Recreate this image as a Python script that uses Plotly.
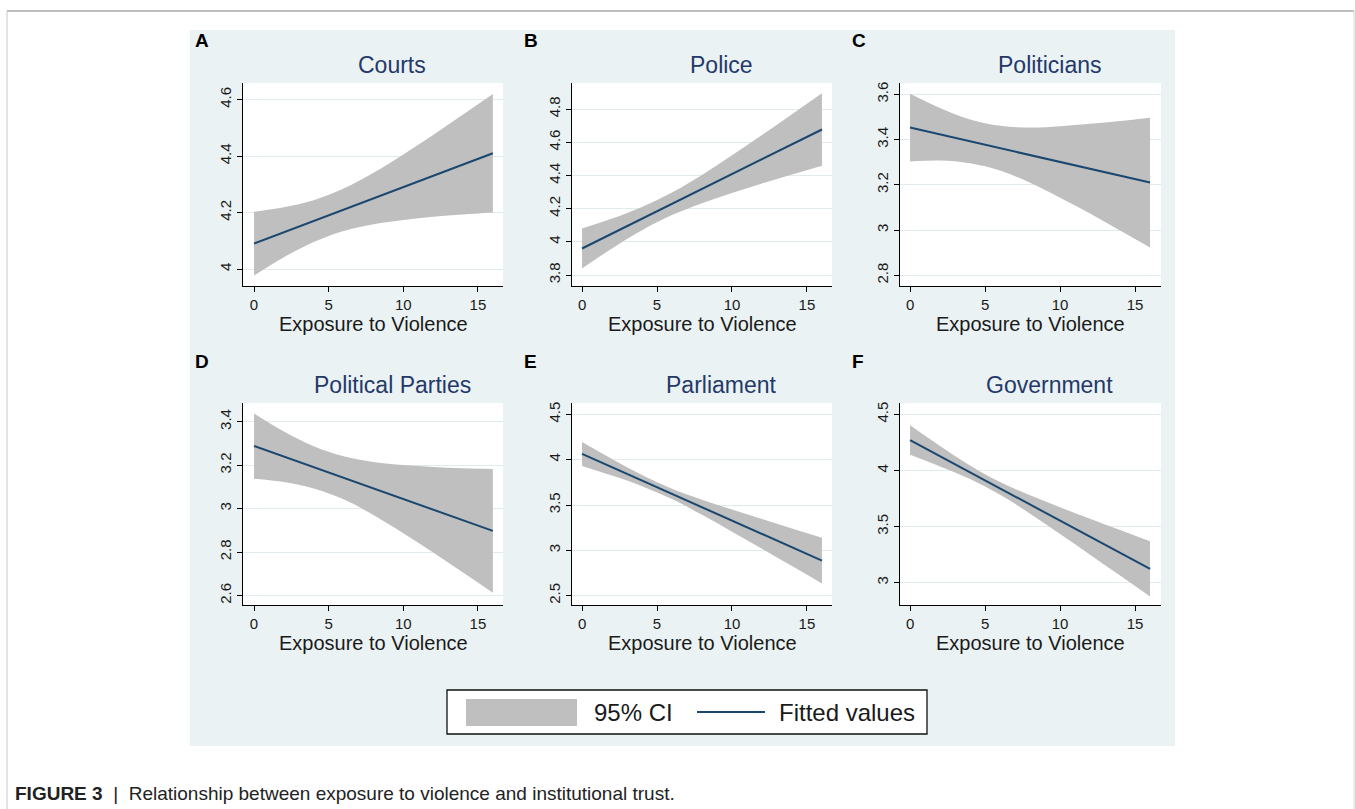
import plotly.graph_objects as go
from plotly.subplots import make_subplots

W, H = 1355, 809

COLORS = {
    "bg": "#EAF2F3",
    "grid": "#E1EBED",
    "ci": "#BFBFBF",
    "fit": "#1A476F",
    "title": "#24396A",
    "frame": "#A8A8A8",
}

# exposure to violence (x) at which the bands were read
exposure = [0, 2, 4, 6, 8, 10, 12, 14, 16]

panel_letters = ["A", "B", "C", "D", "E", "F"]
panel_titles = ["Courts", "Police", "Politicians", "Political Parties", "Parliament", "Government"]

courts_fit = [4.09, 4.13, 4.17, 4.21, 4.25, 4.29, 4.33, 4.37, 4.41]
courts_hi = [4.203, 4.219, 4.244, 4.285, 4.341, 4.406, 4.475, 4.547, 4.62]
courts_lo = [3.977, 4.042, 4.096, 4.135, 4.159, 4.174, 4.185, 4.193, 4.20]

police_fit = [3.96, 4.05, 4.14, 4.229, 4.318, 4.408, 4.498, 4.587, 4.677]
police_hi = [4.08, 4.14, 4.21, 4.297, 4.403, 4.521, 4.644, 4.769, 4.895]
police_lo = [3.84, 3.96, 4.07, 4.161, 4.233, 4.295, 4.352, 4.406, 4.459]

politicians_fit = [3.453, 3.423, 3.392, 3.362, 3.331, 3.301, 3.271, 3.24, 3.21]
politicians_hi = [3.603, 3.54, 3.489, 3.461, 3.453, 3.459, 3.47, 3.482, 3.497]
politicians_lo = [3.303, 3.307, 3.295, 3.263, 3.209, 3.143, 3.073, 2.998, 2.923]

parties_fit = [3.288, 3.239, 3.19, 3.142, 3.093, 3.044, 2.995, 2.946, 2.898]
parties_hi = [3.438, 3.355, 3.287, 3.241, 3.215, 3.201, 3.192, 3.186, 3.183]
parties_lo = [3.138, 3.123, 3.093, 3.043, 2.971, 2.887, 2.798, 2.706, 2.613]

parliament_fit = [4.063, 3.916, 3.769, 3.622, 3.475, 3.328, 3.181, 3.034, 2.887]
parliament_hi = [4.195, 4.008, 3.831, 3.679, 3.558, 3.45, 3.345, 3.242, 3.139]
parliament_lo = [3.931, 3.824, 3.708, 3.565, 3.392, 3.206, 3.017, 2.826, 2.635]

government_fit = [4.271, 4.127, 3.984, 3.840, 3.697, 3.553, 3.409, 3.266, 3.122]
government_hi = [4.402, 4.218, 4.045, 3.897, 3.779, 3.672, 3.569, 3.469, 3.368]
government_lo = [4.14, 4.036, 3.923, 3.783, 3.615, 3.434, 3.249, 3.063, 2.876]

x_ticks = [0, 5, 10, 15]
y_ticks = [
    [4, 4.2, 4.4, 4.6],
    [3.8, 4, 4.2, 4.4, 4.6, 4.8],
    [2.8, 3, 3.2, 3.4, 3.6],
    [2.6, 2.8, 3, 3.2, 3.4],
    [2.5, 3, 3.5, 4, 4.5],
    [3, 3.5, 4, 4.5],
]
y_ranges = [
    [3.94, 4.659],
    [3.734, 4.957],
    [2.753, 3.65],
    [2.557, 3.486],
    [2.397, 4.625],
    [2.801, 4.601],
]

series = [
    (courts_fit, courts_lo, courts_hi),
    (police_fit, police_lo, police_hi),
    (politicians_fit, politicians_lo, politicians_hi),
    (parties_fit, parties_lo, parties_hi),
    (parliament_fit, parliament_lo, parliament_hi),
    (government_fit, government_lo, government_hi),
]

# plot-area pixel boxes
col_px = [(243, 503), (572, 832), (900, 1161)]
row_px = [(83, 286), (403, 605)]
x_ranges = [[-0.74, 16.68], [-0.67, 16.67], [-0.67, 16.73]]


def px_x(p):
    return p / W


def px_y(p):
    return 1 - p / H


fig = make_subplots(rows=2, cols=3)

for i, (fit, lo, hi) in enumerate(series):
    r, c = i // 3 + 1, i % 3 + 1
    fig.add_trace(go.Scatter(x=exposure, y=hi, mode="lines", line=dict(width=0, shape="spline"),
                             showlegend=False, hoverinfo="skip"), row=r, col=c)
    fig.add_trace(go.Scatter(x=exposure, y=lo, mode="lines", line=dict(width=0, shape="spline"),
                             fill="tonexty", fillcolor=COLORS["ci"], showlegend=False,
                             name="95% CI"), row=r, col=c)
    fig.add_trace(go.Scatter(x=exposure, y=fit, mode="lines",
                             line=dict(color=COLORS["fit"], width=2), showlegend=False,
                             name="Fitted values"), row=r, col=c)

axis_font = dict(family="Liberation Sans, Arial, sans-serif", size=15, color="#1a1a1a")
annotations = []
for i in range(6):
    r, c = i // 3, i % 3
    x0, x1 = col_px[c]
    y0, y1 = row_px[r]
    n = "" if i == 0 else str(i + 1)
    fig.layout["xaxis" + n].update(
        domain=[px_x(x0), px_x(x1)], range=x_ranges[c], tickvals=x_ticks,
        ticktext=[str(t) for t in x_ticks], showgrid=False, zeroline=False,
        showline=True, linecolor="black", linewidth=1.3, ticks="outside",
        ticklen=5, tickwidth=1.3, tickcolor="black", tickfont=axis_font,
    )
    fig.layout["yaxis" + n].update(
        domain=[px_y(y1), px_y(y0)], range=y_ranges[i], tickvals=y_ticks[i],
        ticktext=[("%g" % t) for t in y_ticks[i]], showgrid=True,
        gridcolor=COLORS["grid"], gridwidth=1.3, zeroline=False,
        showline=True, linecolor="black", linewidth=1.3, ticks="outside",
        ticklen=5, tickwidth=1.3, tickcolor="black", tickfont=axis_font,
        tickangle=-90,
    )
    cx = (x0 + x1) / 2
    # panel letter
    annotations.append(dict(text="<b>%s</b>" % panel_letters[i], x=px_x(x0 - 50), y=px_y(y0 - 42),
                            xref="paper", yref="paper", xanchor="left", yanchor="middle",
                            showarrow=False,
                            font=dict(family="Liberation Sans, Arial", size=19, color="black")))
    # panel title
    annotations.append(dict(text=panel_titles[i], x=px_x(cx + 19), y=px_y(y0 - 18),
                            xref="paper", yref="paper", xanchor="center", yanchor="middle",
                            showarrow=False,
                            font=dict(family="Liberation Sans, Arial", size=23, color=COLORS["title"])))
    # x axis title
    annotations.append(dict(text="Exposure to Violence", x=px_x(cx), y=px_y(y1 + 38),
                            xref="paper", yref="paper", xanchor="center", yanchor="middle",
                            showarrow=False,
                            font=dict(family="Liberation Sans, Arial", size=20, color="#1a1a1a")))

# legend drawn by hand, Stata style
leg_font = dict(family="Liberation Sans, Arial", size=24, color="#1a1a1a")
annotations.append(dict(text="95% CI", x=px_x(592), y=px_y(712), xref="paper", yref="paper",
                        xanchor="left", yanchor="middle", showarrow=False, font=leg_font))
annotations.append(dict(text="Fitted values", x=px_x(777), y=px_y(712), xref="paper", yref="paper",
                        xanchor="left", yanchor="middle", showarrow=False, font=leg_font))

# caption
annotations.append(dict(
    text="<b>FIGURE 3</b>  |  Relationship between exposure to violence and institutional trust.",
    x=px_x(13), y=px_y(793), xref="paper", yref="paper", xanchor="left", yanchor="middle",
    showarrow=False,
    font=dict(family="Liberation Sans Narrow, Arial Narrow, Liberation Sans", size=19, color="#222222")))

shapes = [
    # white margins around the graph region
    dict(type="rect", xref="paper", yref="paper", x0=0, x1=px_x(190), y0=0, y1=1,
         fillcolor="white", line=dict(width=0), layer="below"),
    dict(type="rect", xref="paper", yref="paper", x0=px_x(1175), x1=1, y0=0, y1=1,
         fillcolor="white", line=dict(width=0), layer="below"),
    dict(type="rect", xref="paper", yref="paper", x0=0, x1=1, y0=px_y(30), y1=1,
         fillcolor="white", line=dict(width=0), layer="below"),
    dict(type="rect", xref="paper", yref="paper", x0=0, x1=1, y0=0, y1=px_y(746),
         fillcolor="white", line=dict(width=0), layer="below"),
    # page frame
    dict(type="line", xref="paper", yref="paper", x0=px_x(7), x1=px_x(1354), y0=px_y(11), y1=px_y(11),
         line=dict(color=COLORS["frame"], width=1.5)),
    dict(type="line", xref="paper", yref="paper", x0=px_x(7), x1=px_x(7), y0=0, y1=px_y(11),
         line=dict(color="#C8C8C8", width=1)),
    dict(type="line", xref="paper", yref="paper", x0=px_x(1354), x1=px_x(1354), y0=0, y1=px_y(11),
         line=dict(color="#DADADA", width=1)),
    # legend box
    dict(type="rect", xref="paper", yref="paper", x0=px_x(447), x1=px_x(927), y0=px_y(734), y1=px_y(690),
         fillcolor="white", line=dict(color="#111111", width=1.3)),
    dict(type="rect", xref="paper", yref="paper", x0=px_x(466), x1=px_x(577), y0=px_y(726), y1=px_y(699),
         fillcolor=COLORS["ci"], line=dict(width=0)),
    dict(type="line", xref="paper", yref="paper", x0=px_x(697), x1=px_x(765), y0=px_y(712), y1=px_y(712),
         line=dict(color=COLORS["fit"], width=2)),
]

fig.update_layout(
    width=W, height=H,
    margin=dict(l=0, r=0, t=0, b=0),
    paper_bgcolor=COLORS["bg"],
    plot_bgcolor="white",
    showlegend=False,
    annotations=annotations,
    shapes=shapes,
    font=dict(family="Liberation Sans, Arial, sans-serif"),
)

fig.write_html("out.html", config={"displayModeBar": False},
               post_script="document.body.style.margin='0';")
